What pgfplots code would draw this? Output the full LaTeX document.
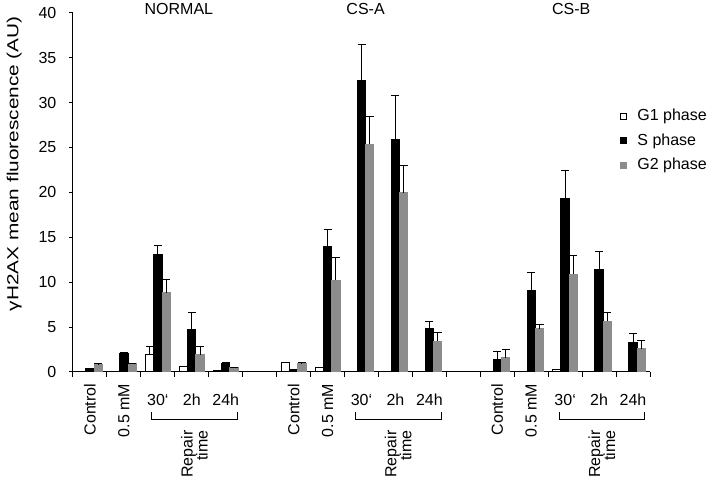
\documentclass[border=0pt]{standalone}
\usepackage{graphicx}
\usepackage{pgfplots}
\usepackage{pgfplotstable}
\pgfplotsset{compat=1.18}
\usepackage{fontspec}
\setmainfont{Liberation Sans}
\definecolor{gtwo}{RGB}{140,140,140}
\newcommand{\hl}[1]{\rule{0pt}{10.66pt}#1}
\pgfplotstableread{
x g1 g1e s se g2 g2e
0 0.05 0 0.35 0 0.85 0.05
1 0.05 0 2.05 0.15 0.9 0.05
2 1.97 0.85 13.1 1.0 8.8 1.5
3 0.6 0 4.7 1.9 1.9 0.9
4 0.15 0 0.97 0.1 0.5 0.05
6 1.08 0 0.3 0 1.0 0.05
7 0.52 0 13.95 1.95 10.2 2.5
8 0.03 0 32.5 4.0 25.35 3.05
9 0 0 25.9 4.9 19.97 3.03
10 0 0 4.86 0.74 3.4 1.0
12 0 0 1.41 0.89 1.6 0.9
13 0.05 0 9.06 2.0 4.79 0.48
14 0.3 0 19.3 3.1 10.9 2.05
15 0 0 11.36 2.0 5.64 1.01
16 0 0 3.27 1.0 2.6 0.9
}\datatable
\pgfplotsset{
  myerr/.style={error bars/.cd, y dir=plus, y explicit,
    error bar style={line width=0.5pt, black},
    error mark=-,
    error mark options={rotate=90, black, line width=0.5pt, mark size=2pt}},
}
\begin{document}
\begin{tikzpicture}[font=\fontsize{8pt}{9.6pt}\selectfont]
\begin{axis}[
  scale only axis, width=288.5pt, height=179.65pt,
  xmin=-0.5, xmax=16.5, ymin=0, ymax=40,
  clip=false,
  axis x line=bottom, axis y line=left,
  axis line style={-, line width=0.5pt, black},
  tick align=outside,
  major tick length=2pt, minor tick length=2.5pt,
  tick style={line width=0.5pt, black},
  major x tick style={draw=none},
  ytick={0,5,...,40},
  /pgf/number format/assume math mode=true,
  yticklabel style={xshift=-2.8pt},
  xtick={0,1,2,3,4,6,7,8,9,10,12,13,14,15,16},
  minor xtick={-0.5,0.5,...,16.5},
  xticklabels={\rotatebox{90}{Control},\rotatebox{90}{0.5 mM},\hl{30‘},\hl{2h},\hl{24h},
               \rotatebox{90}{Control},\rotatebox{90}{0.5 mM},\hl{30‘},\hl{2h},\hl{24h},
               \rotatebox{90}{Control},\rotatebox{90}{0.5 mM},\hl{30‘},\hl{2h},\hl{24h}},
  xticklabel style={yshift=-0.4pt},
  ylabel={\scalebox{1.3}[1]{γH2AX mean fluorescence (AU)}},
  ylabel style={at={(axis description cs:-0.102,0.58)}, anchor=center},
  legend image code/.code={\draw[#1] (0pt,-1.5pt) rectangle (3pt,1.5pt); \path[draw=none, fill=none] (3pt,0pt) -- (6pt,0pt);},
  legend style={draw=none, fill=none, at={(axis description cs:0.948,0.7466)}, anchor=north west,
    inner sep=0pt, row sep=0pt,
    nodes={text height=6pt, text depth=1.75pt, inner sep=2.25pt}},
  legend cell align=left,
]
\addplot[ybar, bar width=0.245, bar shift=0, fill=white, draw=black, line width=0.5pt, myerr]
  table[x expr=\thisrow{x}-0.245, y=g1, y error=g1e] {\datatable};
\addplot[ybar, bar width=0.245, bar shift=0, fill=black, draw=black, line width=0.5pt, myerr]
  table[x=x, y=s, y error=se] {\datatable};
\addplot[ybar, bar width=0.245, bar shift=0, fill=gtwo, draw=gtwo, line width=0.5pt, myerr]
  table[x expr=\thisrow{x}+0.245, y=g2, y error=g2e] {\datatable};
\legend{G1 phase, S phase, G2 phase}
\node[anchor=base] at (axis cs:2.62,39.75) {NORMAL};
\node[anchor=base] at (axis cs:8.12,39.75) {CS-A};
\node[anchor=base] at (axis cs:14.18,39.75) {CS-B};
\pgfplotsinvokeforeach{2,8,14}{
  \draw[line width=0.5pt] (axis cs:#1-0.18,-4.4) -- (axis cs:#1-0.18,-5.25) -- (axis cs:#1+2.35,-5.25) -- (axis cs:#1+2.35,-4.4);
  \node[rotate=90, anchor=east, align=right, inner sep=0pt, font=\fontsize{8pt}{7.5pt}\selectfont] at (axis cs:#1+1.08,-6.46) {Repair\\time};
}
\coordinate (bl) at (rel axis cs:0,0);
\coordinate (tr) at (rel axis cs:1,1);
\end{axis}
\pgfresetboundingbox
\path[use as bounding box] ([xshift=-36.5pt,yshift=-54pt]bl) rectangle ([xshift=28.5pt,yshift=6.35pt]tr);
\end{tikzpicture}
\end{document}
